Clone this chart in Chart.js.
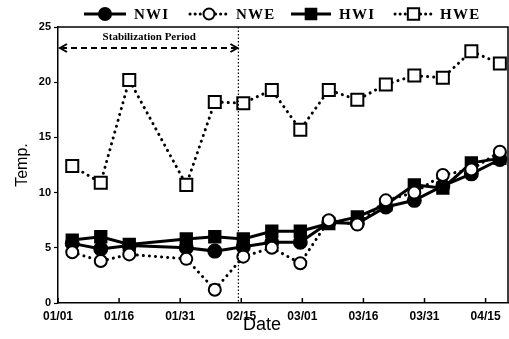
<!DOCTYPE html>
<html>
<head>
<meta charset="utf-8">
<script src="https://cdn.jsdelivr.net/npm/chart.js@4.4.1/dist/chart.umd.min.js"></script>
<style>
  html, body { margin: 0; padding: 0; background: #fff; overflow: hidden; }
  #wrap { width: 509px; height: 339px; }
</style>
</head>
<body>
<div id="wrap"><canvas id="tempChart"></canvas></div>
<script>
// days since 01/01
const days = [3.5, 10.5, 17.5, 31.5, 38.5, 45.5, 52.5, 59.5, 66.5, 73.5, 80.5, 87.5, 94.5, 101.5, 108.5];
const dateTicks = ['01/01', '01/16', '01/31', '02/15', '03/01', '03/16', '03/31', '04/15'];

const nwi = [5.4, 4.9, 5.2, 5.0, 4.7, 5.1, 5.5, 5.5, 7.3, 7.2, 8.7, 9.3, 10.6, 11.7, 13.0];
const nwe = [4.6, 3.8, 4.4, 4.0, 1.2, 4.2, 5.0, 3.6, 7.5, 7.1, 9.3, 10.0, 11.6, 12.1, 13.7];
const hwi = [5.7, 6.0, 5.3, 5.8, 6.0, 5.8, 6.5, 6.5, 7.2, 7.8, 8.9, 10.7, 10.4, 12.7, 13.1];
const hwe = [12.4, 10.9, 20.2, 10.7, 18.2, 18.1, 19.3, 15.7, 19.3, 18.4, 19.8, 20.6, 20.4, 22.8, 21.7];

const stabEnd = 44.3;

function pts(vals) {
    return vals.map((v, i) => ({ x: days[i], y: v }));
}

const seriesStyle = {
    NWI: { dotted: false, pointStyle: 'circle', radius: 6.5, fill: '#000' },
    NWE: { dotted: true, pointStyle: 'circle', radius: 6, fill: '#fff' },
    HWI: { dotted: false, pointStyle: 'rect', radius: 8, fill: '#000' },
    HWE: { dotted: true, pointStyle: 'rect', radius: 8.5, fill: '#fff' }
};

function makeSet(label, vals) {
    const s = seriesStyle[label];
    return {
        label: label,
        data: pts(vals),
        borderColor: '#000',
        borderWidth: 3,
        borderDash: s.dotted ? [0.1, 6] : [],
        borderCapStyle: s.dotted ? 'round' : 'butt',
        pointStyle: s.pointStyle,
        pointRadius: s.radius,
        pointBackgroundColor: s.fill,
        pointBorderColor: '#000',
        pointBorderWidth: 2,
        tension: 0,
        clip: false
    };
}

const extras = {
    id: 'extras',
    afterDraw(chart) {
        const ctx = chart.ctx;
        const a = chart.chartArea;
        const xs = chart.scales.x;
        ctx.save();

        // frame top and right
        ctx.strokeStyle = '#000';
        ctx.lineWidth = 1.5;
        ctx.beginPath();
        ctx.moveTo(a.left, a.top);
        ctx.lineTo(a.right, a.top);
        ctx.lineTo(a.right, a.bottom);
        ctx.stroke();

        // inward ticks on date axis
        xs.ticks.forEach(t => {
            const px = xs.getPixelForValue(t.value);
            ctx.beginPath();
            ctx.moveTo(px, a.bottom);
            ctx.lineTo(px, a.bottom - 5);
            ctx.stroke();
        });

        // end of stabilization period
        const vx = xs.getPixelForValue(stabEnd);
        ctx.lineWidth = 1.2;
        ctx.setLineDash([1.5, 2]);
        ctx.beginPath();
        ctx.moveTo(vx, a.top);
        ctx.lineTo(vx, a.bottom);
        ctx.stroke();

        // dashed double arrow
        const ay = a.top + 21;
        ctx.lineWidth = 2;
        ctx.setLineDash([6, 4]);
        ctx.beginPath();
        ctx.moveTo(a.left + 3, ay);
        ctx.lineTo(vx - 3, ay);
        ctx.stroke();
        ctx.setLineDash([]);
        ctx.beginPath();
        ctx.moveTo(a.left + 9, ay - 4);
        ctx.lineTo(a.left + 2, ay);
        ctx.lineTo(a.left + 9, ay + 4);
        ctx.moveTo(vx - 8, ay - 4);
        ctx.lineTo(vx - 1, ay);
        ctx.lineTo(vx - 8, ay + 4);
        ctx.stroke();

        ctx.fillStyle = '#000';
        ctx.font = 'bold 11px "Liberation Serif"';
        ctx.textAlign = 'center';
        ctx.textBaseline = 'middle';
        ctx.fillText('Stabilization Period', (a.left + vx) / 2 + 1, a.top + 10);

        // x axis title, sits a little left of the plot centre
        ctx.font = '18px "Liberation Sans"';
        ctx.fillText('Date', 262, 325);

        // legend
        const items = [
            { label: 'NWI', x0: 84, x1: 126 },
            { label: 'NWE', x0: 190, x1: 228 },
            { label: 'HWI', x0: 291, x1: 331 },
            { label: 'HWE', x0: 395, x1: 432 }
        ];
        const ly = 14;
        items.forEach(it => {
            const s = seriesStyle[it.label];
            ctx.lineWidth = 3;
            ctx.strokeStyle = '#000';
            if (s.dotted) {
                ctx.setLineDash([0.1, 5]);
                ctx.lineCap = 'round';
            } else {
                ctx.setLineDash([]);
                ctx.lineCap = 'butt';
            }
            ctx.beginPath();
            ctx.moveTo(it.x0, ly);
            ctx.lineTo(it.x1, ly);
            ctx.stroke();
            ctx.setLineDash([]);
            ctx.lineCap = 'butt';
            ctx.fillStyle = s.fill;
            ctx.lineWidth = 2;
            Chart.helpers.drawPoint(ctx, {
                pointStyle: s.pointStyle,
                radius: s.radius - 0.5,
                rotation: 0,
                borderWidth: 2
            }, (it.x0 + it.x1) / 2, ly);
            ctx.fillStyle = '#000';
            ctx.font = 'bold 15px "Liberation Serif"';
            ctx.textAlign = 'left';
            ctx.fillText(it.label.split('').join(String.fromCharCode(8202)), it.x1 + 8, ly + 1);
        });

        ctx.restore();
    }
};

new Chart(document.getElementById('tempChart'), {
    type: 'line',
    data: {
        datasets: [
            makeSet('HWE', hwe),
            makeSet('NWE', nwe),
            makeSet('HWI', hwi),
            makeSet('NWI', nwi)
        ]
    },
    options: {
        responsive: true,
        maintainAspectRatio: false,
        animation: false,
        layout: { autoPadding: false, padding: { left: 0, top: 27, right: 1, bottom: 0 } },
        plugins: {
            legend: { display: false },
            tooltip: { enabled: false }
        },
        scales: {
            x: {
                type: 'linear',
                min: 0,
                max: 110.5,
                afterFit(scale) {
                    scale.height = 36;
                    scale.paddingLeft = 0;
                    scale.paddingRight = 0;
                },
                afterBuildTicks(scale) {
                    scale.ticks = dateTicks.map((_, i) => ({ value: i * 15 }));
                },
                ticks: {
                    color: '#000',
                    font: { family: 'Liberation Sans', size: 12, weight: 'bold' },
                    padding: 6,
                    maxRotation: 0,
                    autoSkip: false,
                    callback: (v) => dateTicks[Math.round(v / 15)]
                },
                grid: { display: false, drawTicks: false, tickLength: 0 },
                border: { display: true, color: '#000', width: 1.5 },
                title: { display: false }
            },
            y: {
                min: 0,
                max: 25,
                afterFit(scale) {
                    scale.width = 58;
                    scale.paddingTop = 0;
                    scale.paddingBottom = 0;
                },
                ticks: {
                    stepSize: 5,
                    color: '#000',
                    font: { family: 'Liberation Sans', size: 11, weight: 'bold' },
                    padding: 3
                },
                grid: { display: true, drawOnChartArea: false, tickLength: 4, color: '#000', tickWidth: 1.2 },
                border: { display: true, color: '#000', width: 1.5 },
                title: {
                    display: true,
                    text: 'Temp.',
                    color: '#000',
                    font: { family: 'Liberation Sans', size: 16 },
                    padding: { top: 13, bottom: 0 }
                }
            }
        }
    },
    plugins: [extras]
});
</script>
</body>
</html>
